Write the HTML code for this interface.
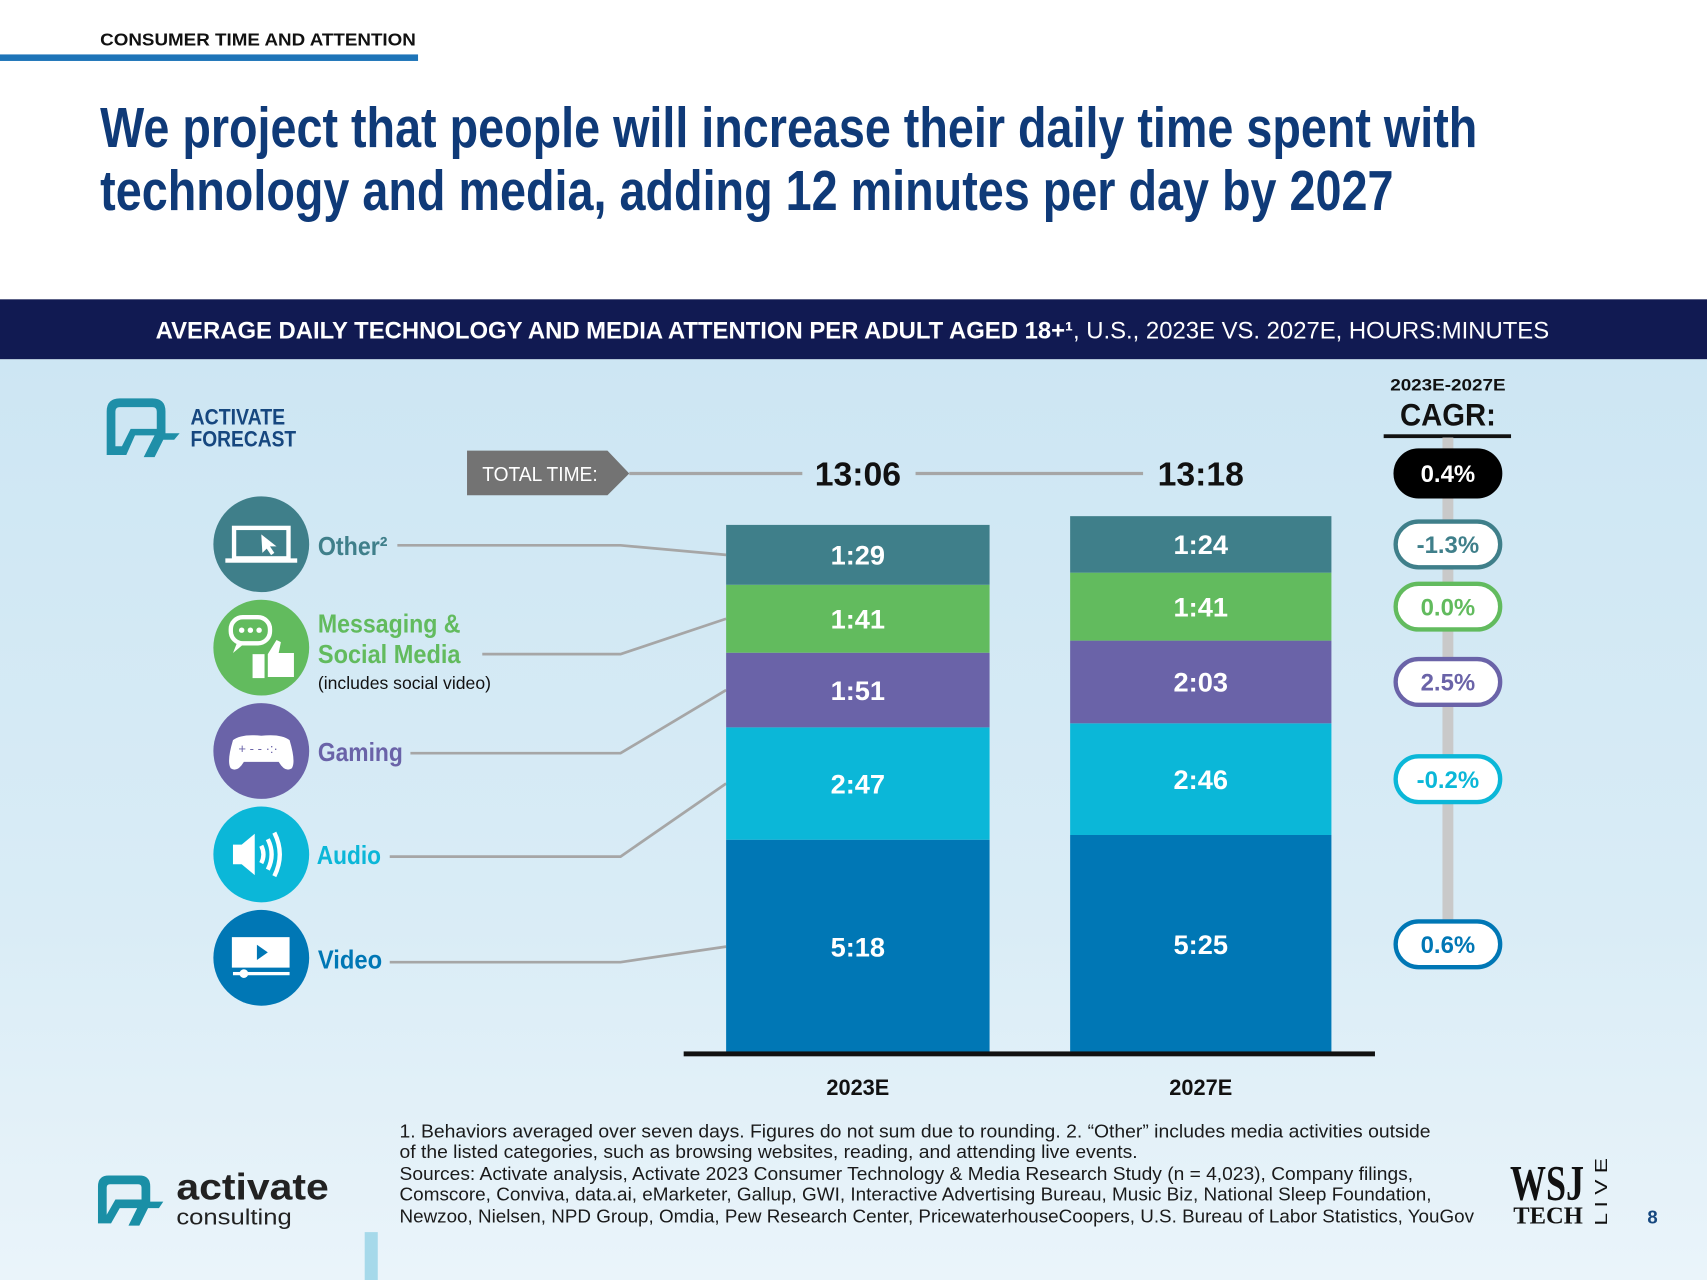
<!DOCTYPE html>
<html><head><meta charset="utf-8"><style>
html,body{margin:0;padding:0;background:#fff;}
svg{display:block;}
text{font-family:"Liberation Sans",sans-serif;}
</style></head><body>
<svg id="chart" width="1707" height="1280" viewBox="0 0 1568 1176" preserveAspectRatio="none" xmlns="http://www.w3.org/2000/svg">
<defs>
<linearGradient id="bg" x1="0" y1="0" x2="0" y2="1">
<stop offset="0" stop-color="#cde6f3"/><stop offset="0.6" stop-color="#d9ecf6"/><stop offset="1" stop-color="#eaf4fa"/>
</linearGradient>
</defs>
<rect x="0" y="0" width="1568" height="1176" fill="#fff"/>
<rect x="0" y="330" width="1568" height="846" fill="url(#bg)"/>
<text x="92" y="42" font-size="16" font-weight="bold" fill="#111" textLength="290" lengthAdjust="spacingAndGlyphs">CONSUMER TIME AND ATTENTION</text>
<rect x="0" y="50" width="384" height="6" fill="#1d74b8"/>
<text x="92" y="135" font-size="52" font-weight="bold" fill="#0f3a78" textLength="1265" lengthAdjust="spacingAndGlyphs">We project that people will increase their daily time spent with</text>
<text x="92" y="193" font-size="52" font-weight="bold" fill="#0f3a78" textLength="1188" lengthAdjust="spacingAndGlyphs">technology and media, adding 12 minutes per day by 2027</text>
<rect x="0" y="275" width="1568" height="55" fill="#111a52"/>
<text x="143" y="311" font-size="22" fill="#fff" textLength="1280" lengthAdjust="spacingAndGlyphs"><tspan font-weight="bold">AVERAGE DAILY TECHNOLOGY AND MEDIA ATTENTION PER ADULT AGED 18+¹</tspan>, U.S., 2023E VS. 2027E, HOURS:MINUTES</text>

<g>
<path d="M98 418 L98 378 Q98 366 110 366 L140 366 Q152 366 152 378 L152 398 L165 398 L160 404 L150 404 L142 420 L132 420 L142 400 L124 400 L116 418 Z" fill="#1f8fa8"/>
<path d="M106 410 L106 378 Q106 374 110 374 L140 374 Q144 374 144 378 L144 394 L120 394 L112 410 Z" fill="#cde6f3"/>
<text x="175" y="390" font-size="20" font-weight="bold" fill="#16477f" textLength="87" lengthAdjust="spacingAndGlyphs">ACTIVATE</text>
<text x="175" y="410" font-size="20" font-weight="bold" fill="#16477f" textLength="97" lengthAdjust="spacingAndGlyphs">FORECAST</text>
</g>

<g>
<path d="M429 414 L558 414 L578 435 L558 455 L429 455 Z" fill="#737373"/>
<text x="443" y="442" font-size="19" fill="#fff" textLength="106" lengthAdjust="spacingAndGlyphs">TOTAL TIME:</text>
<line x1="578" y1="435" x2="737" y2="435" stroke="#a6a6a6" stroke-width="3"/>
<line x1="841" y1="435" x2="1050" y2="435" stroke="#a6a6a6" stroke-width="3"/>
</g>

<g>
<text x="1330" y="359" font-size="15" font-weight="bold" fill="#111" text-anchor="middle" textLength="106" lengthAdjust="spacingAndGlyphs">2023E-2027E</text>
<text x="1330" y="391" font-size="29" font-weight="bold" fill="#111" text-anchor="middle" textLength="88" lengthAdjust="spacingAndGlyphs">CAGR:</text>
<rect x="1271" y="399" width="117" height="3.5" fill="#111"/>
<rect x="1325" y="402" width="10" height="470" fill="#c9c9c9"/>
</g>

<g id="legend">
<g>
<circle cx="240" cy="500" r="44" fill="#3f7f8a"/>
<rect x="215" y="485" width="50" height="28" fill="none" stroke="#fff" stroke-width="4"/>
<rect x="207" y="513" width="66" height="4" fill="#fff"/>
<path d="M240 491 L254 502 L248 502 L252 508 L249 510 L245 504 L241 508 Z" fill="#fff"/>
<text x="292" y="510" font-size="24" font-weight="bold" fill="#3f7f8a" textLength="64" lengthAdjust="spacingAndGlyphs">Other²</text>
</g>
<g>
<circle cx="240" cy="595" r="44" fill="#62bb5e"/>
<rect x="212" y="567" width="36" height="24" rx="11" fill="none" stroke="#fff" stroke-width="4"/>
<path d="M218 590 L214 600 L226 590 Z" fill="#fff"/>
<circle cx="222" cy="579" r="2.5" fill="#fff"/><circle cx="230" cy="579" r="2.5" fill="#fff"/><circle cx="238" cy="579" r="2.5" fill="#fff"/>
<rect x="232" y="601" width="11" height="22" fill="#fff"/>
<path d="M246 601 L254 588 L258 590 L256 600 L270 600 L270 622 L246 622 Z" fill="#fff"/>
<text x="292" y="581" font-size="24" font-weight="bold" fill="#62bb5e" textLength="131" lengthAdjust="spacingAndGlyphs">Messaging &amp;</text>
<text x="292" y="609" font-size="24" font-weight="bold" fill="#62bb5e" textLength="131" lengthAdjust="spacingAndGlyphs">Social Media</text>
<text x="292" y="633" font-size="16" fill="#111" textLength="159" lengthAdjust="spacingAndGlyphs">(includes social video)</text>
</g>
<g>
<circle cx="240" cy="690" r="44" fill="#6a63a8"/>
<path d="M214 680 Q222 674 240 676 Q258 674 266 680 Q272 700 268 706 Q262 710 256 700 L224 700 Q218 710 212 706 Q208 700 214 680 Z" fill="#fff"/>
<text x="219" y="692" font-size="12" fill="#6a63a8">+  - - ·:·</text>
<text x="292" y="699" font-size="24" font-weight="bold" fill="#6a63a8" textLength="78" lengthAdjust="spacingAndGlyphs">Gaming</text>
</g>
<g>
<circle cx="240" cy="785" r="44" fill="#0bb7d8"/>
<path d="M214 776 L222 776 L234 766 L234 804 L222 794 L214 794 Z" fill="#fff"/>
<path d="M240 777 Q244 785 240 793" fill="none" stroke="#fff" stroke-width="4"/>
<path d="M246 771 Q253 785 246 799" fill="none" stroke="#fff" stroke-width="4"/>
<path d="M252 765 Q262 785 252 805" fill="none" stroke="#fff" stroke-width="4"/>
<text x="291" y="794" font-size="24" font-weight="bold" fill="#0bb7d8" textLength="59" lengthAdjust="spacingAndGlyphs">Audio</text>
</g>
<g>
<circle cx="240" cy="880" r="44" fill="#0077b5"/>
<rect x="213" y="861" width="53" height="28" fill="#fff"/>
<path d="M236 868 L246 875 L236 882 Z" fill="#0077b5"/>
<rect x="214" y="893" width="52" height="3" fill="#fff"/>
<circle cx="224" cy="894.5" r="4" fill="#fff"/>
<text x="292" y="890" font-size="24" font-weight="bold" fill="#0077b5" textLength="59" lengthAdjust="spacingAndGlyphs">Video</text>
</g>
</g>

<g id="connectors"></g>
<g id="bars"></g>
<g id="pills"></g>
<rect x="628" y="966" width="635" height="4.5" fill="#111"/>

<g font-size="17" fill="#1a1a1a">
<text x="367" y="1045" textLength="947" lengthAdjust="spacingAndGlyphs">1. Behaviors averaged over seven days. Figures do not sum due to rounding.  2. “Other” includes media activities outside</text>
<text x="367" y="1064" textLength="678" lengthAdjust="spacingAndGlyphs">of the listed categories, such as browsing websites, reading, and attending live events.</text>
<text x="367" y="1084" textLength="931" lengthAdjust="spacingAndGlyphs">Sources: Activate analysis, Activate 2023 Consumer Technology &amp; Media Research Study (n = 4,023), Company filings,</text>
<text x="367" y="1103" textLength="948" lengthAdjust="spacingAndGlyphs">Comscore, Conviva, data.ai, eMarketer, Gallup, GWI, Interactive Advertising Bureau, Music Biz, National Sleep Foundation,</text>
<text x="367" y="1123" textLength="987" lengthAdjust="spacingAndGlyphs">Newzoo, Nielsen, NPD Group, Omdia, Pew Research Center, PricewaterhouseCoopers, U.S. Bureau of Labor Statistics, YouGov</text>
</g>

<g>
<path d="M90 1124 L90 1090 Q90 1080 100 1080 L128 1080 Q138 1080 138 1090 L138 1104 L150 1104 L146 1110 L136 1110 L128 1126 L118 1126 L126 1110 L110 1110 L102 1124 Z" fill="#1a8fa6"/>
<path d="M98 1116 L98 1091 Q98 1088 101 1088 L127 1088 Q130 1088 130 1091 L130 1102 L106 1102 Z" fill="#e6f1f8"/>
<text x="162" y="1102" font-size="34" font-weight="bold" fill="#222" textLength="140" lengthAdjust="spacingAndGlyphs">activate</text>
<text x="162" y="1125" font-size="20" fill="#222" textLength="106" lengthAdjust="spacingAndGlyphs">consulting</text>
</g>
<rect x="335" y="1132" width="12" height="44" fill="#a6d9ea"/>
<g>
<text x="1387" y="1102" style="font-family:'Liberation Serif',serif" font-size="46" font-weight="bold" fill="#111" textLength="68" lengthAdjust="spacingAndGlyphs">WSJ</text>
<text x="1390" y="1124" style="font-family:'Liberation Serif',serif" font-size="22" font-weight="bold" fill="#111" textLength="64" lengthAdjust="spacingAndGlyphs">TECH</text>
<text transform="translate(1476,1126) rotate(-90)" font-size="16" fill="#111" textLength="62" lengthAdjust="spacingAndGlyphs">L I V E</text>
</g>
<text x="1518" y="1124" font-size="17" font-weight="bold" fill="#16477f" text-anchor="middle">8</text>
</svg>
<script>
const years = ["2023E", "2027E"];
const categories = ["Video", "Audio", "Gaming", "Messaging", "Other"];
const minutes2023 = [318, 167, 111, 101, 89];
const minutes2027 = [325, 166, 123, 101, 84];
const totalLabels = ["13:06", "13:18"];
const cagrLabels = ["0.6%", "-0.2%", "2.5%", "0.0%", "-1.3%"];
const totalCagr = "0.4%";

const NS = "http://www.w3.org/2000/svg";
const colors = ["#0077b5", "#0bb7d8", "#6a63a8", "#62bb5e", "#3f7f8a"];
const legendY = [884, 787, 692, 601, 501];
const legendX0 = [358, 358, 377, 443, 365];
const baseY = 968, pxPerMin = 0.618;
const barX = [667, 983], barW = [242, 240];
const yScale = m => baseY - m * pxPerMin;
function fmt(m) { return Math.floor(m / 60) + ":" + String(m % 60).padStart(2, "0"); }
function mk(tag, attrs, parent) {
  const e = document.createElementNS(NS, tag);
  for (const k in attrs) e.setAttribute(k, attrs[k]);
  parent.appendChild(e);
  return e;
}
const barsG = document.getElementById("bars");
const connG = document.getElementById("connectors");
const pillsG = document.getElementById("pills");
const series = [minutes2023, minutes2027];
const centers = [[], []];
let tops = [];
series.forEach((vals, bi) => {
  let cum = 0;
  vals.forEach((v, ci) => {
    const y0 = yScale(cum), y1 = yScale(cum + v);
    const r = mk("rect", { x: barX[bi], y: y1, width: barW[bi], height: y0 - y1, fill: colors[ci] }, barsG);
    
    
    const cy = (y0 + y1) / 2;
    centers[bi].push(cy);
    const t = mk("text", { x: barX[bi] + barW[bi] / 2, y: cy + 9, "font-size": 25, "font-weight": "bold", fill: "#fff", "text-anchor": "middle" }, barsG);
    t.textContent = fmt(v);
    
    
    cum += v;
  });
  tops.push(yScale(cum));
  const xl = mk("text", { x: barX[bi] + barW[bi] / 2, y: 1006, "font-size": 20, "font-weight": "bold", fill: "#111", "text-anchor": "middle" }, barsG);
  xl.textContent = years[bi];
  
  
  const tt = mk("text", { x: barX[bi] + barW[bi] / 2, y: 446, "font-size": 31, "font-weight": "bold", fill: "#111", "text-anchor": "middle" }, barsG);
  tt.textContent = totalLabels[bi];
  
  
});
categories.forEach((c, ci) => {
  const ly = legendY[ci];
  const p = mk("polyline", { points: legendX0[ci] + "," + ly + " 570," + ly + " 667," + centers[0][ci], fill: "none", stroke: "#a6a6a6", "stroke-width": 2.5 }, connG);
  
  
});
function pill(cy, label, color, filled, name) {
  const g = mk("g", {}, pillsG);
  
  
  mk("rect", { x: 1282, y: cy - 21, width: 96, height: 42, rx: 21, fill: filled ? "#000" : "#fff", stroke: color, "stroke-width": 4 }, g);
  const t = mk("text", { x: 1330, y: cy + 8, "font-size": 22, "font-weight": "bold", fill: filled ? "#fff" : color, "text-anchor": "middle" }, g);
  t.textContent = label;
}
pill(435, totalCagr, "#000", true, 'cagr-total');
categories.forEach((c, ci) => pill(centers[1][ci], cagrLabels[ci], colors[ci], false, 'cagr-' + c.toLowerCase()));
</script>
</body></html>
